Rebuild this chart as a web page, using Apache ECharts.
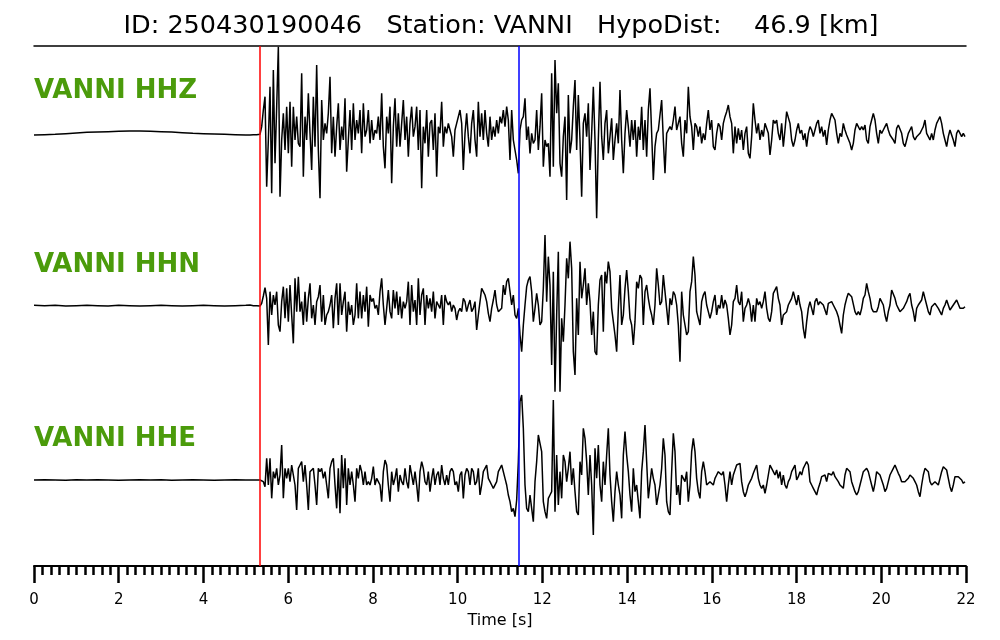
<!DOCTYPE html>
<html>
<head>
<meta charset="utf-8">
<script src="https://cdn.jsdelivr.net/npm/echarts@6/dist/echarts.min.js"></script>
<style>
html,body{margin:0;padding:0;background:#fff;}
#chart{width:1000px;height:640px;}
</style>
</head>
<body>
<div id="chart"></div>
<script>
// ---------------- data ----------------
const titleText = 'ID: 250430190046   Station: VANNI   HypoDist:    46.9 [km]';
const stationLabels = ['VANNI HHZ', 'VANNI HHN', 'VANNI HHE'];
const timeTicks = [0, 2, 4, 6, 8, 10, 12, 14, 16, 18, 20, 22];
const pPick = 5.335;   // red marker [s]
const sPick = 11.44;   // blue marker [s]

// pre-event noise, sampled every preDt seconds from t = 0
const preDt = 0.25;
const hhzPre = [-6,-5,-4,-2,0,2,3,4,5,6,6,5,4,3,1,-1,-2,-3,-4,-5,-6];
const hhnPre = [2,1,2,0,1,2,1,0,2,1,0,1,2,1,0,1,2,1,0,1,2];
const hhePre = [0,1,0,-1,1,0,1,0,-1,0,1,0,1,-1,0,1,0,-1,0,1,0];

// main record, sampled every mainDt seconds from mainT0 (normalised counts)
const mainT0 = 5.099;
const mainDt = 0.03934;
const hhzValues = [
 -6,-6,-5,-5,-5,-4,-4,19,69,109,-161,-21,139,-181,189,-91,79,259,-191,-21,
 59,-51,79,-61,94,-101,79,-21,49,-31,-41,179,-131,49,-21,119,-1,-111,109,-41,
 204,-51,-196,99,-21,29,-1,60,169,-61,49,-71,19,89,-51,19,-21,104,-116,-21,
 69,-51,89,-21,39,-1,69,-61,89,-11,9,69,-31,39,-21,9,-1,49,-21,119,
 -41,-106,49,-1,79,-151,19,104,-41,59,-41,29,99,-21,49,-71,29,79,-11,19,
 79,-51,69,-166,19,-31,69,-71,29,39,-51,59,-131,19,-1,94,-41,19,-1,29,
 9,-11,-71,9,29,29,69,29,-111,-1,59,-11,-61,29,69,-21,-71,94,-11,59,
 -21,69,-1,-41,
 49,-21,19,-11,39,-1,49,29,69,19,79,39,-81,69,-21,-51,-81,-121,9,39,
 49,104,-21,19,-61,-1,-31,-21,69,-51,19,119,-101,-21,-41,-31,-131,179,-101,219,
 59,149,-91,-131,-11,49,-201,114,-61,-21,79,159,-51,114,-21,-191,29,59,-11,89,
 -111,-1,139,-21,-256,-21,154,-11,-81,29,69,-61,-11,44,-81,-21,29,-31,129,-21,
 -121,-1,69,19,-41,39,-21,39,-71,19,-21,79,-51,39,-71,69,134,-1,-141,-41,
 -1,9,9,99,-21,-121,-1,-1,19,9,39,79,9,9,49,-31,-71,39,-1,139,
 49,19,-51,29,19,-11,19,-31,-1,-21,29,69,9,39,-41,-51,-1,29,19,-21,
 29,49,64,84,
 49,29,-61,19,-31,14,-21,9,-51,-1,19,-61,-76,-11,89,39,-1,29,-21,9,
 -11,29,34,-1,-66,-21,39,29,39,-1,-21,29,-41,9,64,59,29,-21,-41,-21,
 9,29,-1,9,-21,-1,-41,-1,19,9,-11,9,29,39,-1,19,-11,9,-36,9,
 39,59,64,39,-1,-31,-1,-11,29,9,-6,-11,-31,-51,-31,9,29,19,9,19,
 9,24,-21,-31,19,39,59,39,-1,-31,9,-1,9,19,29,9,-6,-1,-21,-31,
 14,24,19,-1,-31,-41,-21,-1,9,19,-11,-21,-11,-11,-1,9,19,39,-1,-11,
 -21,-1,-21,9,29,39,49,29,-1,-21,-41,-11,9,9,-21,-41,-1,9,9,-11,
 -1,-11
];
const hhnValues = [
 3,2,1,0,1,0,0,8,30,55,23,-117,43,-27,33,3,43,-57,-77,13,
 58,-37,53,-47,63,-27,-112,83,-17,88,-17,13,-57,43,-47,23,68,-37,3,-57,
 13,28,63,-47,33,-57,-27,-17,3,33,-67,23,68,-57,68,-27,13,43,-77,13,
 -27,3,-57,-27,68,-37,43,-37,33,-17,58,-62,33,13,23,-7,3,-27,43,83,
 3,-57,-7,48,-17,-37,48,-7,43,-27,28,-37,13,-7,13,73,-57,63,-17,18,
 -57,83,-27,33,53,-57,33,-7,23,-17,43,-37,13,3,-7,33,-57,33,13,3,
 13,-17,3,-7,-42,-17,-7,-17,23,13,-17,3,18,-17,-7,13,-72,-27,13,53,
 43,33,13,-22,
 -47,-7,18,48,3,-17,-22,-7,63,33,73,83,43,3,33,-27,-37,-7,-87,-137,
 -57,3,58,78,88,43,-47,-7,38,3,-57,-47,53,213,13,148,63,-177,103,-257,
 -27,163,-257,-37,-107,3,143,83,193,113,-137,-207,23,-87,133,23,63,113,3,68,
 13,-87,-17,-137,-147,3,78,93,-77,103,68,133,103,-7,-47,-87,-137,-7,93,-57,
 -27,53,108,43,-37,-57,-117,-47,73,53,93,83,-57,43,63,23,-7,-27,-57,3,
 113,63,3,13,93,43,-7,-57,23,3,43,33,3,-57,-167,43,-27,-57,-87,-77,
 43,73,148,93,-17,-37,-57,13,33,43,3,-17,-37,-17,13,33,-27,3,-7,33,
 -7,18,3,-37,
 -87,-57,13,23,63,13,3,43,-47,-7,3,23,3,-47,3,-47,23,3,13,-7,
 13,43,-7,-37,-47,-17,38,33,58,23,3,-57,-27,-27,-17,3,13,23,43,23,
 3,33,3,-17,-67,-97,-47,-7,13,-7,-27,13,23,3,13,13,3,3,-27,8,
 3,13,3,8,-17,-32,-57,-82,-27,3,23,38,33,28,23,-17,-27,-17,-27,-7,
 23,33,68,43,23,-7,-17,-22,-17,-2,23,28,3,-27,-47,-17,3,48,43,23,
 3,-7,-17,-17,-7,3,13,28,38,3,-17,-47,-7,3,8,18,43,23,3,-17,
 -27,-2,3,8,3,-7,-17,-27,-7,3,18,3,-12,-7,3,8,18,13,-7,-12,
 -7,-2
];
const hheValues = [
 0,0,0,0,0,0,0,0,-5,-20,65,-15,65,-55,25,5,35,-15,15,105,
 -55,35,5,35,-5,45,15,-15,-90,35,45,55,-5,45,-15,-90,25,25,35,-15,
 -75,35,25,35,5,25,-15,-55,35,55,65,-15,-85,35,-100,75,-25,65,-75,35,
 -15,25,-15,-65,35,5,45,25,-15,25,-15,-5,-15,5,40,-15,5,-5,-15,-65,
 25,60,45,-15,-65,25,-15,5,35,-35,15,-5,-15,35,-5,-25,45,15,-15,25,
 -15,-65,25,55,35,-5,-15,25,-35,5,35,-15,15,25,-15,45,5,-15,15,-15,
 25,35,25,-15,-5,-35,15,25,-55,15,35,25,-15,35,25,-15,-5,35,-45,-15,
 25,35,45,5,
 -5,-15,-25,-20,-5,25,35,45,40,5,-15,-45,-65,-95,-85,-110,-60,55,235,255,
 155,-15,-85,-95,-45,-85,-125,-5,55,135,110,85,-65,-95,-115,-55,-45,-35,240,-95,
 75,-75,25,-55,75,55,-5,35,85,-15,35,-35,-95,-105,55,15,155,125,55,-45,
 75,-15,-165,95,5,105,-15,-65,55,-15,75,155,15,-65,-125,-35,25,-15,-45,-115,
 75,145,75,25,-45,-95,35,-35,-15,-65,-115,25,85,165,55,-55,-55,35,5,-15,
 -75,-45,-15,35,125,75,-65,-95,-105,25,140,85,-45,-15,-75,15,5,-5,25,-65,
 -15,85,125,85,5,-35,-55,25,55,25,-15,-15,-5,-5,-15,5,15,25,30,15,
 25,-15,-65,-15,
 25,-15,15,10,45,45,50,-5,-35,-50,-35,-15,-5,5,20,25,45,5,-15,-25,
 -15,-40,-15,15,45,35,25,15,30,5,25,-15,15,-15,-25,-5,5,25,35,45,
 0,10,25,15,35,45,55,45,-5,-15,-25,-35,-45,-25,-10,10,5,15,-5,20,
 20,15,25,10,5,-5,-15,-10,-25,15,35,40,25,-5,-20,-35,-45,-35,-15,5,
 25,30,35,25,5,-15,-35,-10,25,30,15,0,-15,-35,-25,-5,15,15,35,45,
 50,20,10,-5,0,-5,-10,5,15,15,5,-5,-15,-35,-50,-15,15,35,30,25,
 -5,-15,-10,-5,-5,-15,5,25,40,45,30,5,-20,-35,-15,10,5,10,5,0,
 -10,-5
];

// ---------------- chart ----------------
function buildTrace(pre, main) {
  const pts = [];
  pre.forEach((v, i) => pts.push([i * preDt, v]));
  main.forEach((v, i) => pts.push([mainT0 + i * mainDt, v]));
  return pts;
}
const traces = [buildTrace(hhzPre, hhzValues), buildTrace(hhnPre, hhnValues), buildTrace(hhePre, hheValues)];

const FONT = '"DejaVu Sans", "Liberation Sans", sans-serif';
const xMin = timeTicks[0], xMax = timeTicks[timeTicks.length - 1];
const tickStep = timeTicks[1] - timeTicks[0];

const traceTops = [33, 206, 380];
const grids = [{left: 34, right: 34, top: 46, bottom: 74}];
traceTops.forEach(t => grids.push({left: 34, right: 34, top: t, height: 200}));

const xAxes = [
  {
    gridIndex: 0, type: 'value', min: xMin, max: xMax, interval: tickStep, position: 'bottom',
    axisLine: {show: true, lineStyle: {color: '#000', width: 2}},
    axisTick: {show: true, length: 17, lineStyle: {color: '#000', width: 2.5}},
    minorTick: {show: true, splitNumber: 10, length: 9, lineStyle: {color: '#000', width: 2.5}},
    splitLine: {show: false}, minorSplitLine: {show: false},
    axisLabel: {fontSize: 15, color: '#000', fontFamily: FONT, margin: 27, showMinLabel: true, showMaxLabel: true},
    name: 'Time [s]', nameLocation: 'middle', nameGap: 39,
    nameTextStyle: {fontSize: 16, color: '#000', fontFamily: FONT}
  },
  {
    gridIndex: 0, type: 'value', min: xMin, max: xMax, position: 'top',
    axisLine: {show: true, lineStyle: {color: '#000', width: 1.5}},
    axisTick: {show: false}, axisLabel: {show: false}, splitLine: {show: false}
  }
];
const yAxes = [{gridIndex: 0, type: 'value', min: 0, max: 1, show: false}];
traceTops.forEach((t, i) => {
  xAxes.push({gridIndex: i + 1, type: 'value', min: xMin, max: xMax, show: false});
  yAxes.push({gridIndex: i + 1, type: 'value', min: -300, max: 300, show: false});
});

const series = traces.map((d, i) => ({
  type: 'line', xAxisIndex: i + 2, yAxisIndex: i + 1, data: d,
  symbol: 'none', showSymbol: false, clip: false, z: 2,
  lineStyle: {color: '#000', width: 1.5}
}));
series.push({
  type: 'scatter', xAxisIndex: 0, yAxisIndex: 0, data: [], z: 5, silent: true,
  markLine: {
    symbol: 'none', silent: true, animation: false, label: {show: false},
    data: [
      {xAxis: pPick, lineStyle: {color: '#ff0000', width: 1.5, type: 'solid'}},
      {xAxis: sPick, lineStyle: {color: '#0000ff', width: 1.5, type: 'solid'}}
    ]
  }
});

const labelYs = [91, 265, 439];
const graphic = [
  {type: 'text', x: 501, y: 26, style: {text: titleText, font: '25.5px ' + FONT, fill: '#000', textAlign: 'center', textVerticalAlign: 'middle'}}
];
stationLabels.forEach((s, i) => graphic.push({
  type: 'text', x: 34, y: labelYs[i],
  style: {text: s, font: 'bold 26px ' + FONT, fill: '#4b9b0b', textAlign: 'left', textVerticalAlign: 'middle'}
}));

const chart = echarts.init(document.getElementById('chart'), null, {renderer: 'canvas'});
chart.setOption({
  animation: false,
  backgroundColor: '#fff',
  grid: grids,
  xAxis: xAxes,
  yAxis: yAxes,
  series: series,
  graphic: graphic
});
</script>
</body>
</html>
